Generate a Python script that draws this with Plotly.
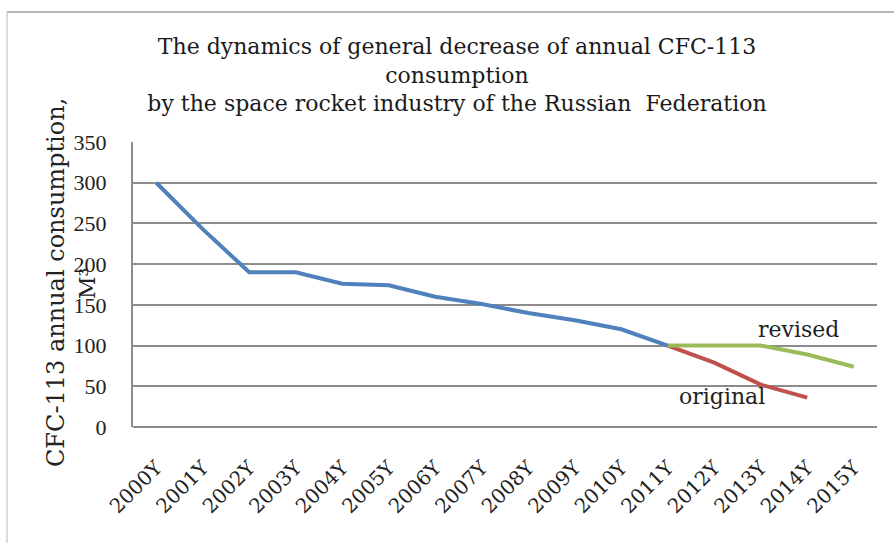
import plotly.graph_objects as go

# Category labels (years)
years = ["2000Y", "2001Y", "2002Y", "2003Y", "2004Y", "2005Y", "2006Y", "2007Y",
         "2008Y", "2009Y", "2010Y", "2011Y", "2012Y", "2013Y", "2014Y", "2015Y"]

# Actual consumption 2000-2011, M3
actual_years = years[0:12]
actual_values = [300, 243, 190, 190, 176, 174, 160, 151, 140, 131, 120, 100]

# Original phase-out plan 2011-2014
original_years = years[11:15]
original_values = [100, 79, 52, 36]

# Revised phase-out plan 2011-2015
revised_years = years[11:16]
revised_values = [100, 100, 100, 89, 74]

y_ticks = [0, 50, 100, 150, 200, 250, 300, 350]

SERIF = "DejaVu Serif"
TICKSERIF = "Liberation Serif"

fig = go.Figure()
fig.add_trace(go.Scatter(x=actual_years, y=actual_values, mode="lines",
                         line=dict(color="#4F81BD", width=4), showlegend=False))
fig.add_trace(go.Scatter(x=original_years, y=original_values, mode="lines",
                         line=dict(color="#C0504D", width=4), showlegend=False))
fig.add_trace(go.Scatter(x=revised_years, y=revised_values, mode="lines",
                         line=dict(color="#9BBB59", width=4), showlegend=False))

fig.update_layout(
    width=894, height=543,
    margin=dict(l=133, r=17, t=142, b=116),
    paper_bgcolor="white", plot_bgcolor="white",
    title=dict(
        text=("The dynamics of general decrease of annual CFC-113<br>"
              "consumption<br>"
              "by the space rocket industry of the Russian  Federation"),
        x=457 / 894, xanchor="center", xref="container",
        y=1 - 54 / 543, yanchor="top", yref="container",
        font=dict(family=SERIF, size=22, color="#1a1a1a"),
    ),
    xaxis=dict(
        type="category", categoryorder="array", categoryarray=years,
        range=[-0.5, len(years) - 0.5],
        tickangle=-45, ticks="outside", ticklen=20, tickcolor="rgba(0,0,0,0)",
        tickfont=dict(family=SERIF, size=20, color="#222222"),
        showgrid=False, showline=False, zeroline=False,
    ),
    yaxis=dict(
        range=[0, 350], tickvals=y_ticks,
        ticks="outside", ticklen=20, tickcolor="rgba(0,0,0,0)",
        tickfont=dict(family=TICKSERIF, size=22, color="#222222"),
        showgrid=True, gridcolor="#8c8c8c", gridwidth=2,
        showline=True, linecolor="#8c8c8c", linewidth=2,
        zeroline=True, zerolinecolor="#8c8c8c", zerolinewidth=2,
    ),
)

# Y axis title, drawn as rotated text in two parts
fig.add_annotation(text="CFC-113 annual consumption,", textangle=-90,
                   xref="paper", yref="paper", x=(56 - 133) / 744, y=(427 - 283) / 285,
                   xanchor="center", yanchor="middle",
                   showarrow=False, font=dict(family=SERIF, size=24, color="#222222"))
fig.add_annotation(text="M³", textangle=-90,
                   xref="paper", yref="paper", x=(87 - 133) / 744, y=(427 - 284) / 285,
                   xanchor="center", yanchor="middle",
                   showarrow=False, font=dict(family=SERIF, size=22, color="#222222"))

# Series labels
fig.add_annotation(text="revised", x="2014Y", y=120, xshift=-9,
                   showarrow=False, font=dict(family=SERIF, size=22, color="#222222"))
fig.add_annotation(text="original", x="2013Y", y=38, xshift=-39,
                   showarrow=False, font=dict(family=SERIF, size=22, color="#222222"))

# Outer frame edges
fig.add_shape(type="line", xref="paper", yref="paper",
              x0=(7 - 133) / 744, x1=(894 - 133) / 744, y0=(427 - 12) / 285, y1=(427 - 12) / 285,
              line=dict(color="#9a9a9a", width=1.5))
fig.add_shape(type="line", xref="paper", yref="paper",
              x0=(7 - 133) / 744, x1=(7 - 133) / 744, y0=(427 - 12) / 285, y1=(427 - 543) / 285,
              line=dict(color="#d0d0d0", width=1.5))

fig.write_html("out.html")
